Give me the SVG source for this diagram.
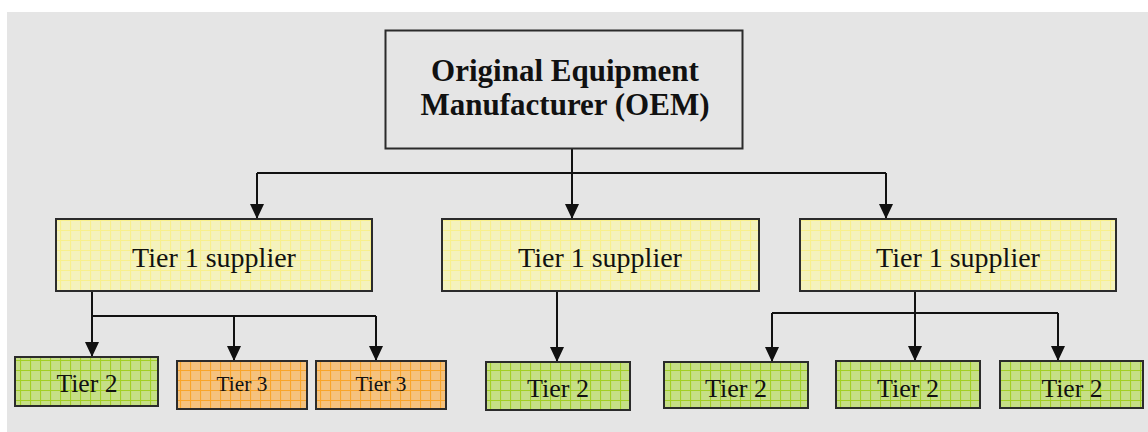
<svg xmlns="http://www.w3.org/2000/svg" width="1148" height="432" viewBox="0 0 1148 432">
  <style>
    .box { stroke: #2b2b2b; stroke-width: 2; }
    .oem { fill: #e5e5e5; }
    .t1 { fill: url(#gridYellow); }
    .t2 { fill: url(#gridGreen); }
    .t3 { fill: url(#gridOrange); }
    .lbl { font-family: "Liberation Serif", "Times New Roman", serif; fill: #111; text-anchor: middle; }
    .head { font-size: 31px; font-weight: bold; }
    .tier1 { font-size: 28px; }
    .tier2 { font-size: 26px; }
    .tier3 { font-size: 21px; }
    .wire { fill: none; stroke: #111; stroke-width: 2; }
  </style>
  <defs>
    <pattern id="gridYellow" width="10" height="10" patternUnits="userSpaceOnUse">
      <rect width="10" height="10" fill="#f4f2bd"/>
      <path d="M0 0.5H10M0.5 0V10" stroke="#f8f08c" stroke-width="1.2"/>
    </pattern>
    <pattern id="gridGreen" width="10" height="10" patternUnits="userSpaceOnUse">
      <rect width="10" height="10" fill="#c6df86"/>
      <path d="M0 0.5H10M0.5 0V10" stroke="#a3cf25" stroke-width="1.2"/>
    </pattern>
    <pattern id="gridOrange" width="10" height="10" patternUnits="userSpaceOnUse">
      <rect width="10" height="10" fill="#f5c27e"/>
      <path d="M0 0.5H10M0.5 0V10" stroke="#f9a52a" stroke-width="1.2"/>
    </pattern>
    <marker id="arrow" markerUnits="userSpaceOnUse" markerWidth="16" markerHeight="16" refX="15" refY="7" orient="auto">
      <path d="M0,0 L15,7 L0,14 Z" fill="#111"/>
    </marker>
  </defs>

  <!-- page background -->
  <rect x="0" y="0" width="1148" height="432" fill="#ffffff"/>
  <rect x="7" y="12" width="1141" height="420" fill="#e5e5e5"/>

  <!-- connectors -->
  <g id="connectors" class="wire">
    <path d="M572 149V173M257 173H886"/>
    <path d="M257 173V219" marker-end="url(#arrow)"/>
    <path d="M572 173V219" marker-end="url(#arrow)"/>
    <path d="M886 173V219" marker-end="url(#arrow)"/>

    <path d="M92 291V316H376"/>
    <path d="M92 316V357" marker-end="url(#arrow)"/>
    <path d="M234 316V361" marker-end="url(#arrow)"/>
    <path d="M376 316V361" marker-end="url(#arrow)"/>

    <path d="M557 291V362" marker-end="url(#arrow)"/>

    <path d="M915 291V313M772 313H1058"/>
    <path d="M772 313V362" marker-end="url(#arrow)"/>
    <path d="M915 313V361" marker-end="url(#arrow)"/>
    <path d="M1058 313V361" marker-end="url(#arrow)"/>
  </g>

  <!-- top node -->
  <g id="oem">
    <rect class="box oem" x="385.5" y="30.5" width="357" height="118"/>
    <text class="lbl head" x="565" y="81">Original Equipment</text>
    <text class="lbl head" x="565" y="115">Manufacturer (OEM)</text>
  </g>

  <!-- first-tier suppliers -->
  <g id="tier1-left">
    <rect class="box t1" x="56" y="219" width="316" height="72"/>
    <text class="lbl tier1" x="214" y="267">Tier 1 supplier</text>
  </g>
  <g id="tier1-middle">
    <rect class="box t1" x="442" y="219" width="317" height="72"/>
    <text class="lbl tier1" x="600" y="267">Tier 1 supplier</text>
  </g>
  <g id="tier1-right">
    <rect class="box t1" x="800" y="219" width="316" height="72"/>
    <text class="lbl tier1" x="958" y="267">Tier 1 supplier</text>
  </g>

  <!-- lower tiers -->
  <g id="tier2-a">
    <rect class="box t2" x="15" y="357" width="143" height="49"/>
    <text class="lbl tier2" x="87" y="392" textLength="61" lengthAdjust="spacingAndGlyphs">Tier 2</text>
  </g>
  <g id="tier3-a">
    <rect class="box t3" x="177" y="361" width="130" height="48"/>
    <text class="lbl tier3" x="242" y="391" textLength="51" lengthAdjust="spacingAndGlyphs">Tier 3</text>
  </g>
  <g id="tier3-b">
    <rect class="box t3" x="316" y="361" width="130" height="48"/>
    <text class="lbl tier3" x="381" y="391" textLength="51" lengthAdjust="spacingAndGlyphs">Tier 3</text>
  </g>
  <g id="tier2-b">
    <rect class="box t2" x="486" y="362" width="144" height="48"/>
    <text class="lbl tier2" x="558" y="397" textLength="62" lengthAdjust="spacingAndGlyphs">Tier 2</text>
  </g>
  <g id="tier2-c">
    <rect class="box t2" x="664" y="362" width="144" height="46"/>
    <text class="lbl tier2" x="736" y="397" textLength="62" lengthAdjust="spacingAndGlyphs">Tier 2</text>
  </g>
  <g id="tier2-d">
    <rect class="box t2" x="836" y="361" width="144" height="47"/>
    <text class="lbl tier2" x="908" y="397" textLength="62" lengthAdjust="spacingAndGlyphs">Tier 2</text>
  </g>
  <g id="tier2-e">
    <rect class="box t2" x="1000" y="361" width="143" height="47"/>
    <text class="lbl tier2" x="1072" y="397" textLength="61" lengthAdjust="spacingAndGlyphs">Tier 2</text>
  </g>
</svg>
